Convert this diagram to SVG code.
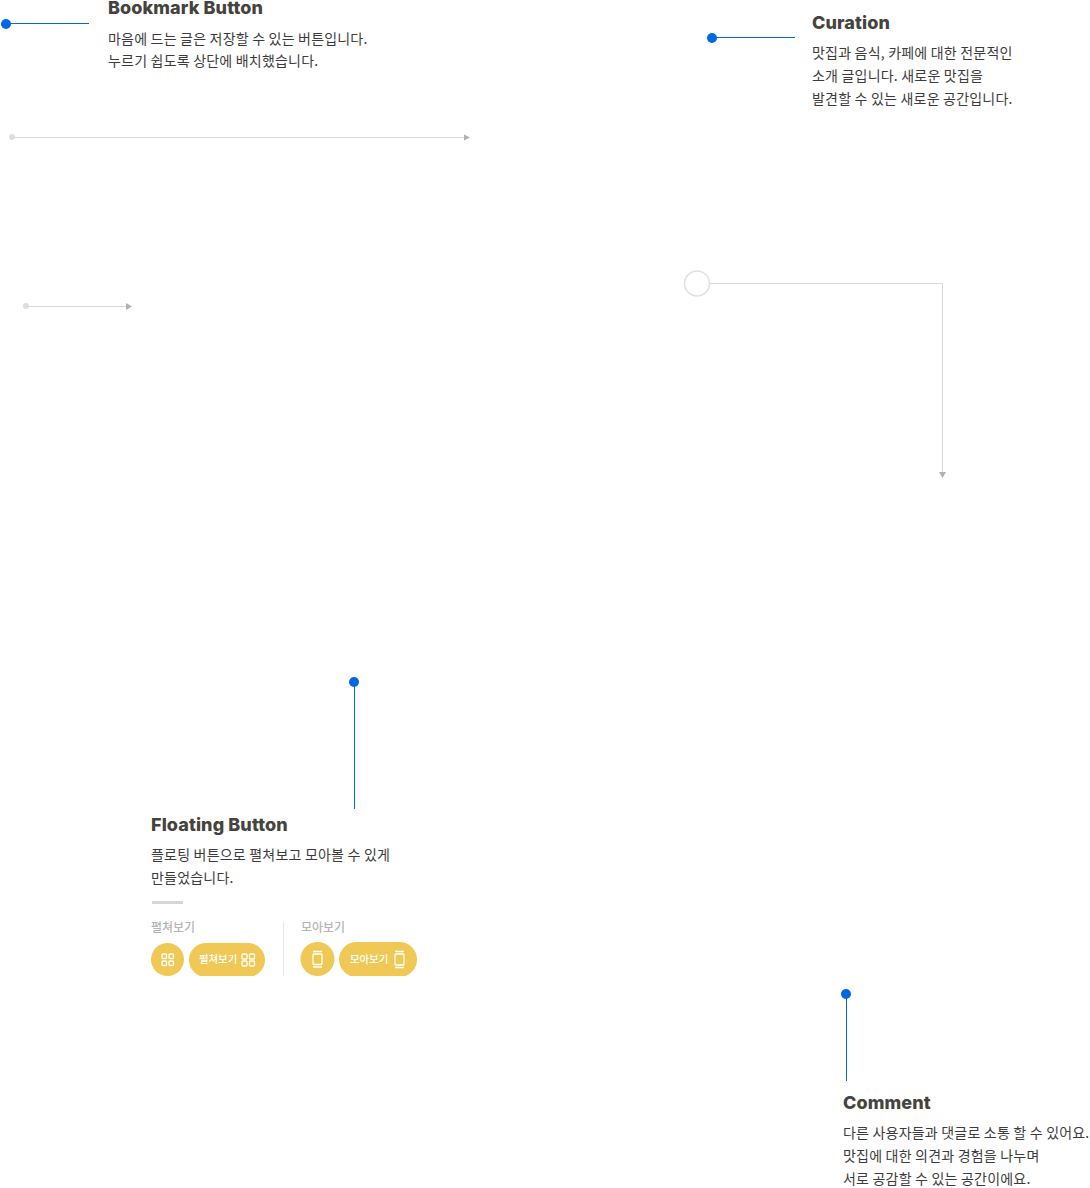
<svg xmlns="http://www.w3.org/2000/svg" width="1090" height="1188" viewBox="0 0 1090 1188">
<style>
.h{font-family:"Inter","Liberation Sans",sans-serif;font-weight:800;font-size:18px;fill:#45433e;letter-spacing:0.1px}
.t{font-family:"Noto Sans CJK KR",sans-serif;font-size:14px;fill:#3c3c3c;letter-spacing:0.2px}
.s{font-family:"Noto Sans CJK KR",sans-serif;font-size:12px;font-weight:500;letter-spacing:0}
.g{fill:#b5b5b5}.w{fill:#fff;font-size:10.5px;letter-spacing:-0.1px}
.b{stroke:#0068e3;stroke-width:1;fill:none}.bd{fill:#0068e3}
.l{stroke:#d8d8d8;stroke-width:1;fill:none}.ld{fill:#dedede}.a{fill:#b0b0b0}
.y{fill:#f0c855}.i{fill:none;stroke:#fff;stroke-width:1.3}
</style>
<defs><clipPath id="cut"><rect x="140" y="930" width="290" height="46"/></clipPath></defs>
<g id="connectors">
<line class="b" x1="6" y1="23.5" x2="89" y2="23.5"/><circle class="bd" cx="6" cy="24" r="5"/>
<line class="b" x1="712" y1="37.5" x2="795" y2="37.5"/><circle class="bd" cx="712" cy="38" r="5"/>
<line class="b" x1="354.500" y1="682" x2="354.500" y2="809"/><circle class="bd" cx="354" cy="682" r="5"/>
<line class="b" x1="846.500" y1="994" x2="846.500" y2="1081"/><circle class="bd" cx="846" cy="994" r="5"/>
<line class="l" x1="12" y1="137.500" x2="465" y2="137.500"/><circle class="ld" cx="12" cy="137" r="3"/><path class="a" d="M464 134.500l6 3-6 3z"/>
<line class="l" x1="26" y1="306.500" x2="127" y2="306.500"/><circle class="ld" cx="26" cy="306" r="3"/><path class="a" d="M126 303l6 3.500-6 3.500z"/>
<path class="l" d="M710 283.500H942.500V472"/><circle cx="697" cy="283.500" r="12.500" fill="#fff" stroke="#e0e0e0" stroke-width="1.500"/><path class="a" d="M939 472h7l-3.500 6z"/>
</g>
<g id="bookmark"><text class="h" x="108" y="14">Bookmark Button</text>
<text class="t" x="108" y="44">마음에 드는 글은 저장할 수 있는 버튼입니다.</text><text class="t" x="108" y="66">누르기 쉽도록 상단에 배치했습니다.</text></g>
<g id="curation"><text class="h" x="812" y="29">Curation</text>
<text class="t" x="812" y="58">맛집과 음식, 카페에 대한 전문적인</text><text class="t" x="812" y="81">소개 글입니다. 새로운 맛집을</text><text class="t" x="812" y="104">발견할 수 있는 새로운 공간입니다.</text></g>
<g id="floating"><text class="h" x="151" y="831">Floating Button</text>
<text class="t" x="151" y="860">플로팅 버튼으로 펼쳐보고 모아볼 수 있게</text><text class="t" x="151" y="883">만들었습니다.</text>
<rect x="152" y="901" width="31" height="3" fill="#d6d6d6"/>
<text class="s g" x="151" y="932">펼쳐보기</text><text class="s g" x="301" y="932">모아보기</text>
<rect x="283" y="922" width="1" height="54" fill="#e6e6e6"/>
<g clip-path="url(#cut)"><circle class="y" cx="167.500" cy="959.500" r="16.500"/>
<rect class="y" x="189" y="943" width="76" height="34" rx="17"/>
<circle class="y" cx="317.500" cy="959" r="17"/>
<rect class="y" x="339" y="942" width="78" height="35" rx="17.500"/></g>
<g class="i"><rect x="162" y="954" width="4.500" height="4.500" rx="1"/><rect x="169" y="954" width="4.500" height="4.500" rx="1"/><rect x="162" y="961" width="4.500" height="4.500" rx="1"/><rect x="169" y="961" width="4.500" height="4.500" rx="1"/>
<rect x="242" y="954" width="5" height="5" rx="1"/><rect x="249.500" y="954" width="5" height="5" rx="1"/><rect x="242" y="961" width="5" height="5" rx="1"/><rect x="249.500" y="961" width="5" height="5" rx="1"/>
<rect x="313" y="954" width="9" height="10.500" rx="1"/><path d="M313 951.500h9M313 967h9"/>
<rect x="395" y="954" width="9" height="11" rx="1"/><path d="M395 951.500h9M395 967.500h9"/></g>
<text class="s w" x="199" y="963">펼쳐보기</text><text class="s w" x="350" y="963">모아보기</text></g>
<g id="comment"><text class="h" x="843" y="1109">Comment</text>
<text class="t" x="843" y="1138">다른 사용자들과 댓글로 소통 할 수 있어요.</text><text class="t" x="843" y="1160.500">맛집에 대한 의견과 경험을 나누며</text><text class="t" x="843" y="1184">서로 공감할 수 있는 공간이에요.</text></g>
</svg>
